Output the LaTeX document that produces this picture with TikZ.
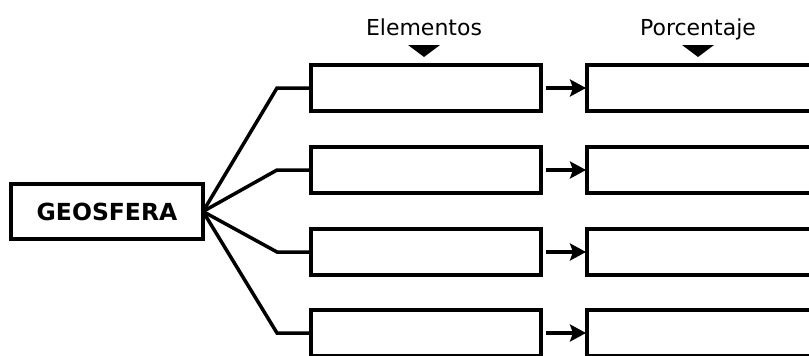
\documentclass[tikz,border=0pt]{standalone}
\usepackage{fontspec}
\setmainfont{DejaVu Sans}
\usetikzlibrary{arrows.meta}
\begin{document}
\begin{tikzpicture}[x=1pt,y=-1pt,line width=3.5pt,
  lbox/.style={draw,line width=3.5pt,minimum width=230pt,minimum height=46pt,inner sep=0pt,outer sep=0pt,anchor=north west},
  rbox/.style={lbox,minimum width=260pt},
  gbox/.style={draw,line width=3.5pt,minimum width=192pt,minimum height=55pt,inner sep=0pt,outer sep=0pt,font=\fontsize{23.5}{26}\selectfont\bfseries},
  lab/.style={inner sep=0pt,font=\fontsize{22}{24}\selectfont},
  conn/.style={line width=3.5pt,line join=miter},
  arr/.style={line width=3.5pt,-{Stealth[length=16pt,width=17pt,inset=3pt]},shorten >=1pt},
  mark tri/.style={fill=black}
]
\useasboundingbox (0,0) rectangle (809,356);
\clip (0,0) rectangle (809,356);

\node[gbox] (g) at (107,211.5) {GEOSFERA};

\node[lab,anchor=base] (lel) at (424,35) {Elementos};
\node[lab,anchor=base] (lpo) at (698,35) {Porcentaje};
\fill[mark tri] (408,45) -- (440,45) -- (424,57) -- cycle;
\fill[mark tri] (682,45) -- (714,45) -- (698,57) -- cycle;

\foreach \i/\y in {1/65,2/147,3/229,4/310}{
  \node[lbox] (e\i) at (311,\y) {};
  \node[rbox] (p\i) at (587,\y) {};
  \coordinate (k\i) at (277,\y+23);
  \draw[conn] (g.east) -- (k\i) -- (e\i.west);
  \draw[arr] ([xshift=4.5pt]e\i.east) -- (p\i.west);
}
\end{tikzpicture}
\end{document}
